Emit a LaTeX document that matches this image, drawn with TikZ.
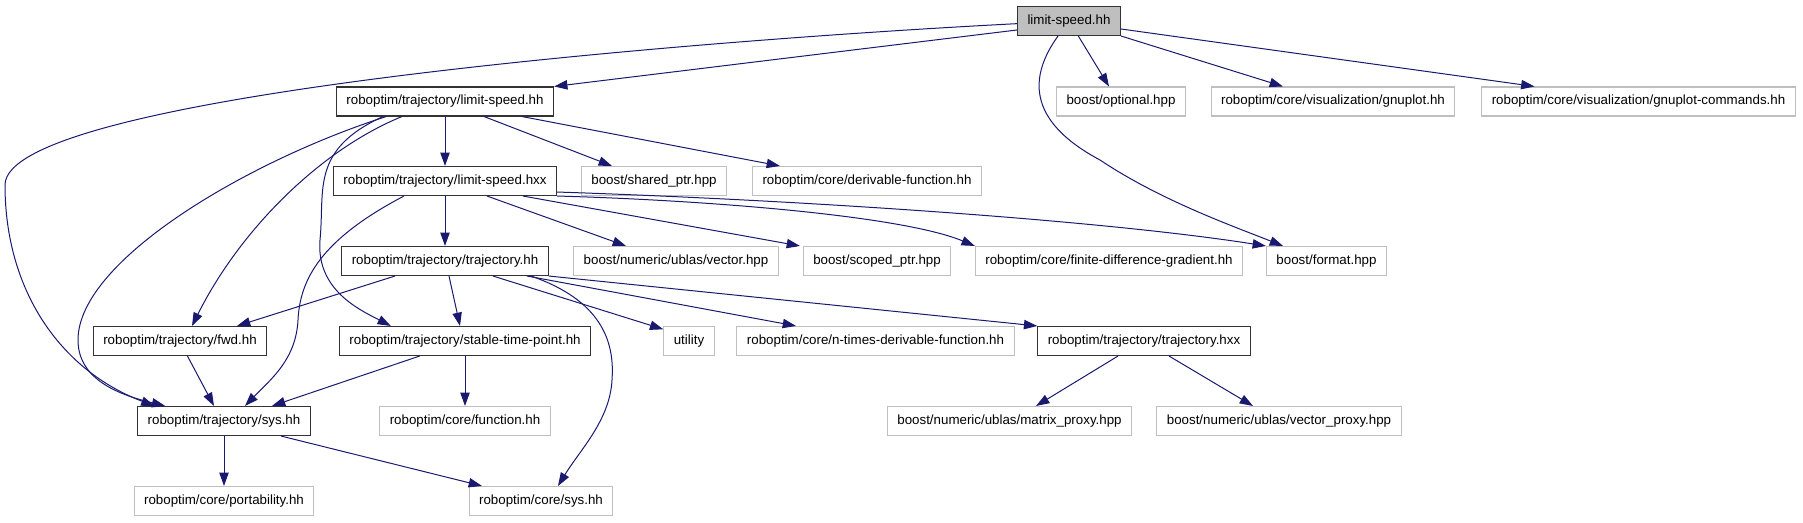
\documentclass[tikz,border=0pt]{standalone}
\usepackage{fontspec}
\setmainfont{Liberation Sans}
\usetikzlibrary{arrows.meta}
\definecolor{edgeblue}{HTML}{191970}
\definecolor{extgray}{HTML}{BFBFBF}

\begin{document}
\begin{tikzpicture}[x=0.75pt,y=-0.75pt,
  incbox/.style={draw,line width=0.8pt,minimum height=21.75pt,inner xsep=7.5pt,inner ysep=0pt,font=\fontsize{10}{12}\selectfont},
  localhdr/.style={incbox,draw=black!80},
  extfile/.style={incbox,draw=extgray},
  mainfile/.style={incbox,draw=black!80,fill=extgray},
  dep/.style={draw=edgeblue,line width=0.75pt,-{Triangle[length=10pt,width=7pt]}}]
\useasboundingbox (0,0) rectangle (1803,523);
% row 0-1
\node[mainfile] (limitspeed) at (1069,21) {limit-speed.hh};
\node[localhdr] (lsh) at (445,101.5) {roboptim/trajectory/limit-speed.hh};
\node[extfile] (optional) at (1121,101.5) {boost/optional.hpp};
\node[extfile] (gnuplot) at (1333,101.5) {roboptim/core/visualization/gnuplot.hh};
\node[extfile] (gnucmd) at (1638.5,101.5) {roboptim/core/visualization/gnuplot-commands.hh};
% row 2
\node[localhdr] (lshxx) at (445,181) {roboptim/trajectory/limit-speed.hxx};
\node[extfile] (sharedptr) at (654,181) {boost/shared\_ptr.hpp};
\node[extfile] (derivfn) at (867,181) {roboptim/core/derivable-function.hh};
% row 3
\node[localhdr] (trajhh) at (445,261) {roboptim/trajectory/trajectory.hh};
\node[extfile] (ublasvec) at (676,261) {boost/numeric/ublas/vector.hpp};
\node[extfile] (scopedptr) at (877,261) {boost/scoped\_ptr.hpp};
\node[extfile] (fdgrad) at (1109,261) {roboptim/core/finite-difference-gradient.hh};
\node[extfile] (format) at (1326.5,261) {boost/format.hpp};
% row 4
\node[localhdr] (fwd) at (180,341) {roboptim/trajectory/fwd.hh};
\node[localhdr] (stable) at (465,341) {roboptim/trajectory/stable-time-point.hh};
\node[extfile] (utility) at (689,341) {utility};
\node[extfile] (ntimes) at (875.5,341) {roboptim/core/n-times-derivable-function.hh};
\node[localhdr] (trajhxx) at (1144,341) {roboptim/trajectory/trajectory.hxx};
% row 5-6
\node[localhdr] (trajsys) at (224,421) {roboptim/trajectory/sys.hh};
\node[extfile] (function) at (465,421) {roboptim/core/function.hh};
\node[extfile] (matproxy) at (1009.5,421) {boost/numeric/ublas/matrix\_proxy.hpp};
\node[extfile] (vecproxy) at (1279,421) {boost/numeric/ublas/vector\_proxy.hpp};
\node[extfile] (portab) at (224,501) {roboptim/core/portability.hh};
\node[extfile] (coresys) at (541,501) {roboptim/core/sys.hh};
% limit-speed.hh
\draw[dep] ([yshift=-6.75pt]limitspeed.west) -- (lsh.north east);
\draw[dep] ([yshift=-2pt]limitspeed.west) .. controls (700,40) and (5,95) .. (5,185)
  .. controls (5,290) and (60,370) .. ([xshift=13pt]trajsys.north west);
\draw[dep] ([xshift=7pt]limitspeed.south) -- ([xshift=-9pt]optional.north);
\draw[dep] (limitspeed.south east) -- ([xshift=-37.5pt]gnuplot.north);
\draw[dep] ([yshift=-6pt]limitspeed.east) -- ([xshift=-78pt]gnucmd.north);
\draw[dep] ([xshift=-8.25pt]limitspeed.south) .. controls (1030,75) and (1025,120) .. (1100,160)
  .. controls (1160,200) and (1230,225) .. ([xshift=-32.6pt]format.north);
% limit-speed.hh (trajectory)
\draw[dep] (lsh) -- (lshxx);
\draw[dep] ([xshift=29.25pt]lsh.south) -- ([xshift=-31.5pt]sharedptr.north);
\draw[dep] ([xshift=57.75pt]lsh.south) -- ([xshift=-65.25pt]derivfn.north);
\draw[dep] ([xshift=-32.25pt]lsh.south) .. controls (320,150) and (240,230) .. ([xshift=9pt]fwd.north);
\draw[dep] ([xshift=-44pt]lsh.south) .. controls (250,160) and (78,260) .. (78,340)
  .. controls (78,380) and (120,395) .. ([xshift=21pt]trajsys.north west);
\draw[dep] ([xshift=-46.5pt]lsh.south) .. controls (310,150) and (325,190) .. (320,240)
  .. controls (316,290) and (360,310) .. ([xshift=39pt]stable.north west);
% limit-speed.hxx
\draw[dep] (lshxx) -- (trajhh);
\draw[dep] ([xshift=-30.75pt]lshxx.south) .. controls (320,240) and (300,280) .. (298,320)
  .. controls (296,360) and (270,380) .. ([xshift=15.75pt]trajsys.north);
\draw[dep] ([xshift=31.5pt]lshxx.south) -- ([xshift=-37.5pt]ublasvec.north);
\draw[dep] ([xshift=58.5pt]lshxx.south) -- ([xshift=-57.75pt]scopedptr.north);
\draw[dep] (lshxx.south east) .. controls (700,200) and (900,215) .. (fdgrad.north west);
\draw[dep] ([yshift=3pt]lshxx.south east) .. controls (800,200) and (1100,220) .. (format.north west);
% trajectory.hh
\draw[dep] ([xshift=-37.5pt]trajhh.south) -- ([xshift=42.75pt]fwd.north);
\draw[dep] ([xshift=3pt]trajhh.south) -- ([xshift=-3.75pt]stable.north);
\draw[dep] ([xshift=36pt]trajhh.south) -- ([yshift=-2.5pt]utility.north west);
\draw[dep] ([xshift=61.5pt]trajhh.south) -- ([xshift=-59.6pt]ntimes.north);
\draw[dep] (trajhh.south east) -- (trajhxx.north west);
\draw[dep] ([xshift=64.5pt]trajhh.south) .. controls (600,300) and (615,340) .. (612,380)
  .. controls (610,420) and (580,450) .. ([xshift=12.75pt]coresys.north);
% fwd, stable-time-point, sys
\draw[dep] ([xshift=5.6pt]fwd.south) -- ([xshift=-7.5pt]trajsys.north);
\draw[dep] ([xshift=-34pt]stable.south) -- ([xshift=36pt]trajsys.north);
\draw[dep] (stable) -- (function);
\draw[dep] (trajsys) -- (portab);
\draw[dep] ([xshift=42.75pt]trajsys.south) -- ([xshift=-44.25pt]coresys.north);
% trajectory.hxx
\draw[dep] ([xshift=-19.5pt]trajhxx.south) -- ([xshift=19.9pt]matproxy.north);
\draw[dep] ([xshift=18.75pt]trajhxx.south) -- ([xshift=-19.5pt]vecproxy.north);
\end{tikzpicture}
\end{document}
